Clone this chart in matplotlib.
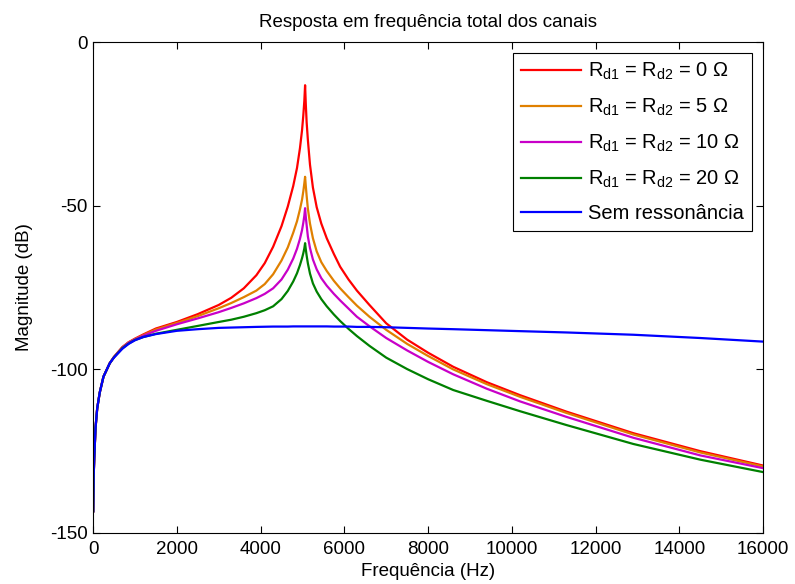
import matplotlib
matplotlib.use("Agg")
import matplotlib.pyplot as plt
import numpy as np

# Frequências (Hz)
freq = [5, 15, 30, 60, 100, 160, 250, 400,
        500, 700, 850, 1000, 1200, 1500, 2000, 2500, 3000, 3300, 3600, 3900,
        4100, 4300, 4500, 4650, 4780, 4870, 4940, 4990, 5020, 5045,
        5063,
        5080, 5100, 5130, 5180, 5250, 5340, 5450, 5580, 5750, 5900,
        6100, 6300, 6600, 7000, 7500, 8000, 8600, 9400, 10200, 11300,
        12900, 14500, 16000]

# trecho inicial, igual para todas as curvas
low = [-143.5, -133, -127, -118, -112, -107.2, -102.3, -98.2]

mag_r0 = low + [-96.3, -93.3, -91.8, -90.7, -89.4, -87.6, -85.6, -83.2, -80.4, -78.2, -75.3, -71.3,
                -67.6, -62.6, -56.3, -50.3, -44.0, -38.5, -32.5, -27.0, -22.5, -18.0,
                -13.2,
                -19.0, -24.5, -30.0, -37.5, -44.5, -50.5, -55.5, -60.0, -64.8, -68.7,
                -72.6, -76.0, -80.4, -86.0, -91.0, -95.0, -99.3, -104.0, -108.0, -113.0,
                -119.6, -125.1, -129.5]

mag_r5 = low + [-96.3, -93.3, -91.8, -90.8, -89.6, -87.9, -85.9, -83.8, -81.4, -79.8, -78.0, -76.0,
                -74.0, -71.0, -66.8, -62.8, -58.3, -54.8, -51.2, -48.2, -45.7, -43.2,
                -41.2,
                -44.0, -47.0, -51.0, -55.5, -60.0, -64.0, -67.3, -70.0, -73.0, -75.3,
                -78.0, -80.6, -84.0, -88.0, -92.3, -96.0, -100.1, -104.6, -108.5, -113.4,
                -120.0, -125.5, -129.8]

mag_r10 = low + [-96.3, -93.4, -91.9, -90.9, -89.8, -88.3, -86.3, -84.5, -82.6, -81.3, -79.9, -78.3,
                 -77.0, -75.3, -72.6, -69.6, -66.2, -63.2, -60.2, -57.5, -55.3, -53.1,
                 -50.8,
                 -53.5, -56.0, -59.5, -63.0, -66.5, -69.5, -72.2, -74.5, -77.0, -79.0,
                 -81.5, -84.0, -86.9, -90.5, -94.3, -97.8, -101.6, -106.0, -109.9, -114.6,
                 -121.0, -126.4, -130.3]

mag_r20 = low + [-96.4, -93.6, -92.2, -91.1, -90.2, -89.2, -88.0, -86.8, -85.6, -84.9, -84.0, -82.9,
                 -82.0, -80.8, -78.6, -76.1, -73.2, -70.7, -68.2, -66.1, -64.6, -63.1,
                 -61.5,
                 -63.4, -65.3, -67.7, -70.8, -73.8, -76.3, -78.6, -80.8, -83.3, -85.3,
                 -87.7, -89.9, -92.9, -96.5, -100.0, -103.1, -106.4, -109.7, -112.9, -117.1,
                 -122.9, -127.7, -131.5]

mag_sem = low + [-96.5, -93.8, -92.3, -91.2, -90.2, -89.3, -88.3, -87.8, -87.4, -87.3, -87.2, -87.1,
                 -87.05, -87.0, -87.0, -87.0, -86.95, -86.95, -86.95, -86.95, -86.95, -86.95,
                 -86.95,
                 -86.95, -86.95, -86.95, -86.95, -86.95, -86.95, -86.95, -86.95, -87.0, -87.0,
                 -87.0, -87.1, -87.1, -87.2, -87.4, -87.6, -87.8, -88.1, -88.4, -88.8,
                 -89.5, -90.5, -91.6]

labels = ['R$_{\\rm d1}$ = R$_{\\rm d2}$ = 0 Ω',
          'R$_{\\rm d1}$ = R$_{\\rm d2}$ = 5 Ω',
          'R$_{\\rm d1}$ = R$_{\\rm d2}$ = 10 Ω',
          'R$_{\\rm d1}$ = R$_{\\rm d2}$ = 20 Ω',
          'Sem ressonância']
cores = ['#ff0000', '#e08000', '#c800c8', '#008000', '#0000ff']

plt.rcParams['font.family'] = ['Liberation Sans', 'DejaVu Sans']
plt.rcParams['mathtext.fontset'] = 'custom'
plt.rcParams['mathtext.rm'] = 'Liberation Sans'
plt.rcParams['mathtext.it'] = 'Liberation Sans:italic'
plt.rcParams['axes.unicode_minus'] = False
plt.rcParams['font.size'] = 13.5

fig = plt.figure(figsize=(7.95, 5.84), dpi=100)
ax = fig.add_axes([0.117, 0.088, 0.843, 0.840])

series = [mag_r0, mag_r5, mag_r10, mag_r20, mag_sem]
for y, lab, c in zip(series, labels, cores):
    ax.plot(freq, y, color=c, linewidth=1.6, label=lab)

ax.set_xlim(0, 16000)
ax.set_ylim(-150, 0)
ax.set_xticks(np.arange(0, 16001, 2000))
ax.set_yticks([-150, -100, -50, 0])
ax.tick_params(direction='in', top=True, right=True, length=5, width=0.8)
ax.tick_params(axis='x', pad=6)
ax.tick_params(axis='y', pad=4)
ax.set_title('Resposta em frequência total dos canais', fontsize=13.5, pad=11)
ax.set_xlabel('Frequência (Hz)', labelpad=4)
ax.set_ylabel('Magnitude (dB)', labelpad=12)

leg = ax.legend(loc='upper right', fancybox=False, edgecolor='black',
                framealpha=1, handlelength=3.0, handletextpad=0.35,
                labelspacing=0.72, borderaxespad=0.55, fontsize=14.5)
leg.get_frame().set_linewidth(0.8)

fig.savefig('out.png', dpi=100)
